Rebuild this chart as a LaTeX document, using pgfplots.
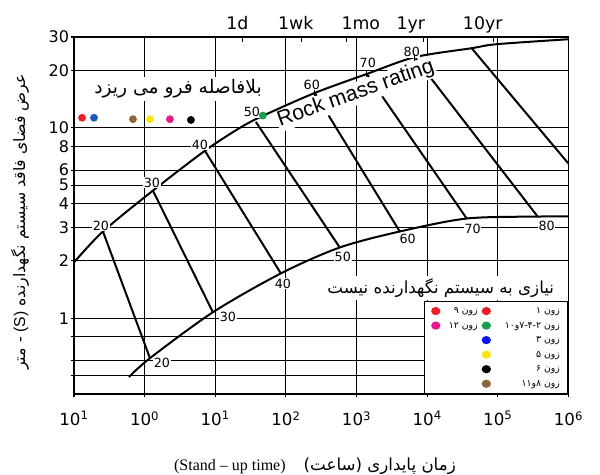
\documentclass[border=0pt]{standalone}
\usepackage{fontspec}
\usepackage{pgfplots}
\pgfplotsset{compat=1.18}
\setmainfont{DejaVu Sans}
\newfontfamily\fa[Script=Arabic]{DejaVu Sans}
\newfontfamily\lserif{Liberation Serif}
\newfontfamily\lsans{Liberation Sans}
\TeXXeTstate=1
\definecolor{zred}{RGB}{232,32,38}
\definecolor{zblue}{RGB}{30,90,185}
\definecolor{zbrown}{RGB}{140,102,58}
\definecolor{zyellow}{RGB}{250,228,20}
\definecolor{zmag}{RGB}{228,24,140}
\definecolor{zgreen}{RGB}{22,160,78}
\definecolor{lblue}{RGB}{10,20,240}

\begin{document}
\begin{tikzpicture}
\path[use as bounding box] (0,0) rectangle (450pt,356.25pt);
\begin{axis}[
  at={(55.5pt,60.75pt)}, anchor=south west,
  scale only axis, width=370.9pt, height=267.75pt,
  xmode=log, ymode=log,
  xmin=0.1, xmax=1e6, ymin=0.4, ymax=30,
  clip=false,
  axis line style={line width=1.3pt},
  xtick={0.1,1,10,100,1000,10000,100000,1000000},
  xticklabels={10\textsuperscript{1},10\textsuperscript{0},10\textsuperscript{1},10\textsuperscript{2},10\textsuperscript{3},10\textsuperscript{4},10\textsuperscript{5},10\textsuperscript{6}},
  ytick={0.5,0.6,0.8,1,2,3,4,5,6,8,10,20,30},
  yticklabels={,,,1,2,3,4,5,6,8,10,20,30},
  xminorticks=false, yminorticks=false,
  xtick pos=bottom, ytick pos=left,
  tick align=outside, major tick length=2.5pt,
  tick style={black, line width=0.8pt},
  grid=major, major grid style={black, line width=0.75pt},
  xticklabel style={font=\fontsize{12.5}{12.5}\selectfont, yshift=-7pt},
  yticklabel style={font=\fontsize{12}{12}\selectfont, inner xsep=1pt},
  extra x ticks={24,168,720,8760,87600},
  extra x tick labels={},
  extra x tick style={grid=none, xtick pos=top, tick align=inside, major tick length=4pt},
  legend columns=2,
  legend cell align=left,
  legend style={at={(1,0)}, anchor=south east, draw=black, line width=0.9pt,
    fill=white, inner xsep=5pt, inner ysep=1.8pt, column sep=2pt, row sep=0pt,
    font=\fa\fontsize{7}{8}\selectfont,
    nodes={inner xsep=1pt, inner ysep=1.45pt, text height=6pt, text depth=2pt}},
  legend image code/.code={\fill[#1] (3pt,0pt) ellipse [x radius=3pt, y radius=2.6pt];},
]
% RMR iso-lines
\addplot[line width=1.5pt, forget plot] coordinates {(0.257,2.855) (1.19,0.617)};
\addplot[line width=1.5pt, forget plot] coordinates {(1.31,4.68) (9.25,1.075)};
\addplot[line width=1.5pt, forget plot] coordinates {(7.13,7.58) (84.7,1.72)};
\addplot[line width=1.5pt, forget plot] coordinates {(37.5,10.75) (578,2.353)};
\addplot[line width=1.5pt, forget plot] coordinates {(256,15.25) (4083,2.855)};
\addplot[line width=1.5pt, forget plot] coordinates {(1393,19.18) (36220,3.34)};
\addplot[line width=1.5pt, forget plot] coordinates {(6653,23.5) (365600,3.42)};
\addplot[line width=1.5pt, forget plot] coordinates {(42560,26.2) (1000000,6.48)};
% labels with white background
\node[fill=white, inner sep=1pt, rotate=19.6, font=\lsans\fontsize{16}{16}\selectfont] at (axis cs:975,15.1) {Rock mass rating};
\node[fill=white, inner sep=2pt, font=\fa\fontsize{14}{15}\selectfont] at (axis cs:2.97,16.0) {\beginR بلافاصله فرو می ریزد\endR};
\node[fill=white, inner sep=2pt, font=\fa\fontsize{12.5}{13}\selectfont] at (axis cs:15520,1.436) {\beginR نیازی به سیستم نگهدارنده نیست\endR};
% boundary curves
\addplot[line width=1.5pt, smooth, forget plot] coordinates {
 (0.1,1.965) (0.257,2.855) (1.31,4.68) (7.13,7.58) (22.3,10.0) (47.1,11.56)
 (256,15.25) (1393,19.18) (6653,23.5) (42560,26.2) (96200,27.5) (1000000,29.2)};
\addplot[line width=1.5pt, smooth, forget plot] coordinates {
 (0.600,0.491) (1.19,0.617) (9.25,1.075) (84.7,1.72) (578,2.353) (4083,2.855)
 (36220,3.34) (365600,3.42) (1000000,3.43)};
% small marks on the upper curve
\addplot[only marks, mark=|, mark size=2.5pt, mark options={line width=1pt}, forget plot] coordinates {(256,15.25) (1393,19.18) (6653,23.5)};
% RMR numbers
\begin{scope}[every node/.style={fill=white, inner sep=0.5pt, font=\fontsize{9.5}{10}\selectfont}]
\node at (axis cs:0.241,3.07) {20};
\node at (axis cs:1.27,5.15) {30};
\node at (axis cs:6.05,8.15) {40};
\node at (axis cs:33.0,12.1) {50};
\node at (axis cs:232,16.8) {60};
\node at (axis cs:1439,21.9) {70};
\node at (axis cs:6039,25.0) {80};
\node at (axis cs:1.76,0.581) {20};
\node at (axis cs:15.1,1.02) {30};
\node at (axis cs:90.4,1.52) {40};
\node at (axis cs:638,2.09) {50};
\node at (axis cs:5297,2.62) {60};
\node at (axis cs:44060,2.96) {70};
\node at (axis cs:489800,3.07) {80};
\end{scope}
% zone dots
\addplot[only marks, mark=*, mark size=2.7pt, zred, forget plot] coordinates {(0.130,11.3)};
\addplot[only marks, mark=*, mark size=2.7pt, zblue, forget plot] coordinates {(0.192,11.3)};
\addplot[only marks, mark=*, mark size=2.7pt, zbrown, forget plot] coordinates {(0.684,11.1)};
\addplot[only marks, mark=*, mark size=2.7pt, zyellow, forget plot] coordinates {(1.19,11.1)};
\addplot[only marks, mark=*, mark size=2.7pt, zmag, forget plot] coordinates {(2.28,11.1)};
\addplot[only marks, mark=*, mark size=2.7pt, black, forget plot] coordinates {(4.52,11.0)};
\addplot[only marks, mark=*, mark size=2.7pt, zgreen, forget plot] coordinates {(47.1,11.6)};
% top time labels
\begin{scope}[every node/.style={anchor=base, font=\fontsize{13}{13}\selectfont}]
\node at (axis cs:20.5,32.8) {1d};
\node at (axis cs:138,32.8) {1wk};
\node at (axis cs:1146,32.8) {1mo};
\node at (axis cs:5848,32.8) {1yr};
\node at (axis cs:60950,32.8) {10yr};
\end{scope}
% axis titles
\node[anchor=base, font=\lserif\fontsize{12}{12}\selectfont] at (axis cs:16.1,0.158) {(Stand – up time)};
\node[anchor=base, font=\fa\fontsize{12.5}{13}\selectfont] at (axis cs:2128,0.158) {\beginR زمان پایداری (ساعت)\endR};
\node[rotate=90, font=\fa\fontsize{11.8}{12}\selectfont] at (axis cs:0.0172,3.20) {\beginR عرض فضای فاقد سیستم نگهدارنده \beginL{\lsans (S)}\endL{} - متر\endR};
% legend
\addlegendimage{zred}
\addlegendentry{\makebox[25pt][r]{\beginR زون ۹\endR}\hspace{6.75pt}}
\addlegendimage{zred}
\addlegendentry{\makebox[48.75pt][r]{\beginR زون ۱\endR}}
\addlegendimage{zmag}
\addlegendentry{\makebox[25pt][r]{\beginR زون ۱۲\endR}\hspace{6.75pt}}
\addlegendimage{zgreen}
\addlegendentry{\makebox[48.75pt][r]{\beginR زون ۲\kern0pt-\kern0pt۴\kern0pt-\kern0pt۷و۱۰\endR}}
\addlegendimage{empty legend}
\addlegendentry{}
\addlegendimage{lblue}
\addlegendentry{\makebox[48.75pt][r]{\beginR زون ۳\endR}}
\addlegendimage{empty legend}
\addlegendentry{}
\addlegendimage{zyellow}
\addlegendentry{\makebox[48.75pt][r]{\beginR زون ۵\endR}}
\addlegendimage{empty legend}
\addlegendentry{}
\addlegendimage{black}
\addlegendentry{\makebox[48.75pt][r]{\beginR زون ۶\endR}}
\addlegendimage{empty legend}
\addlegendentry{}
\addlegendimage{zbrown}
\addlegendentry{\makebox[48.75pt][r]{\beginR زون ۸و۱۱\endR}}
\end{axis}
\end{tikzpicture}
\end{document}
